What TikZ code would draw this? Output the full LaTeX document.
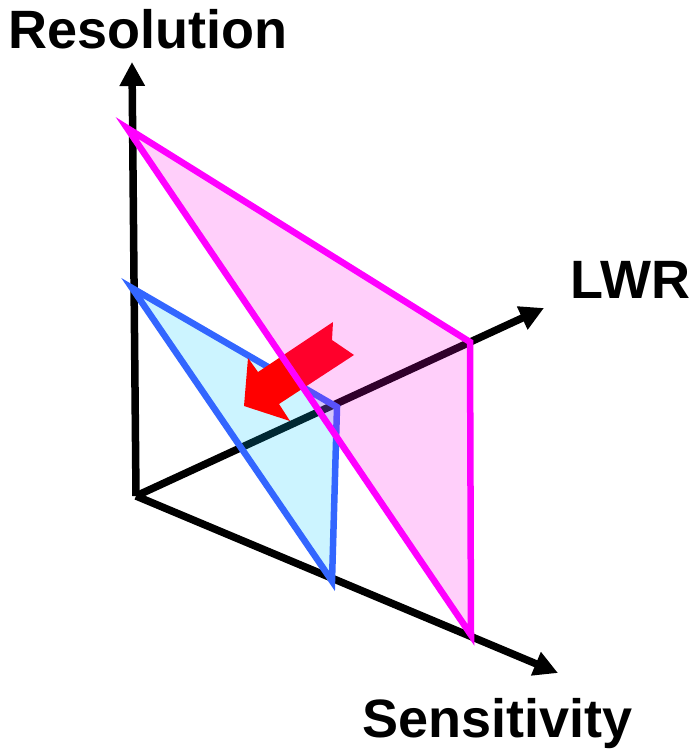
\documentclass[tikz,border=0pt]{standalone}
\usepackage{fontspec}
\setmainfont{Liberation Sans}
\usetikzlibrary{arrows.meta}

\begin{document}
\begin{tikzpicture}[x=1pt,y=-1pt]
\useasboundingbox (0,0) rectangle (699,751);
% axes
\coordinate (O) at (136,496);
\coordinate (res) at (132,62);
\coordinate (lwr) at (544,308);
\coordinate (sens) at (558,673);
% corners of the two planes
\coordinate (m1) at (127,128);
\coordinate (m2) at (470,342);
\coordinate (m3) at (471,635);
\coordinate (b1) at (132,288);
\coordinate (b2) at (337,407);
\coordinate (b3) at (332,581);
\begin{scope}[>={Triangle[length=24pt,width=24pt]},
              axis_line/.style={draw=black,line width=7.5pt}]
    \draw [->,axis_line] (O) -- (res);
    \draw [->,axis_line] (O) -- (lwr);
    \draw [->,axis_line] (O) -- (sens);
\end{scope}
\begin{scope}[blue_tri/.style={draw={rgb,255:red,51;green,102;blue,255},line width=6.5pt,
                               fill={rgb,255:red,0;green,200;blue,255},fill opacity=0.2},
              magenta_tri/.style={draw={rgb,255:red,255;green,0;blue,255},line width=6.5pt,
                                  fill={rgb,255:red,255;green,0;blue,230},fill opacity=0.19}]
    \draw [blue_tri] (b1) -- (b2) -- (b3) -- cycle;
    % shift arrow
    \fill [red] (333,322) -- (332,340) -- (354,355) -- (279,404) -- (290,421)
        -- (244,406) -- (248,358) -- (258,372) -- cycle;
    \draw [magenta_tri] (m1) -- (m2) -- (m3) -- cycle;
\end{scope}
\begin{scope}[every node/.style={inner sep=0pt,anchor=base west,
                                 font=\fontsize{54}{62}\selectfont\bfseries}]
    \node (reslabel) at (8,49) {Resolution};
    \node (lwrlabel) at (570,298) {LWR};
    \node (senslabel) at (362,737) {Sensitivity};
\end{scope}
\end{tikzpicture}
\end{document}
